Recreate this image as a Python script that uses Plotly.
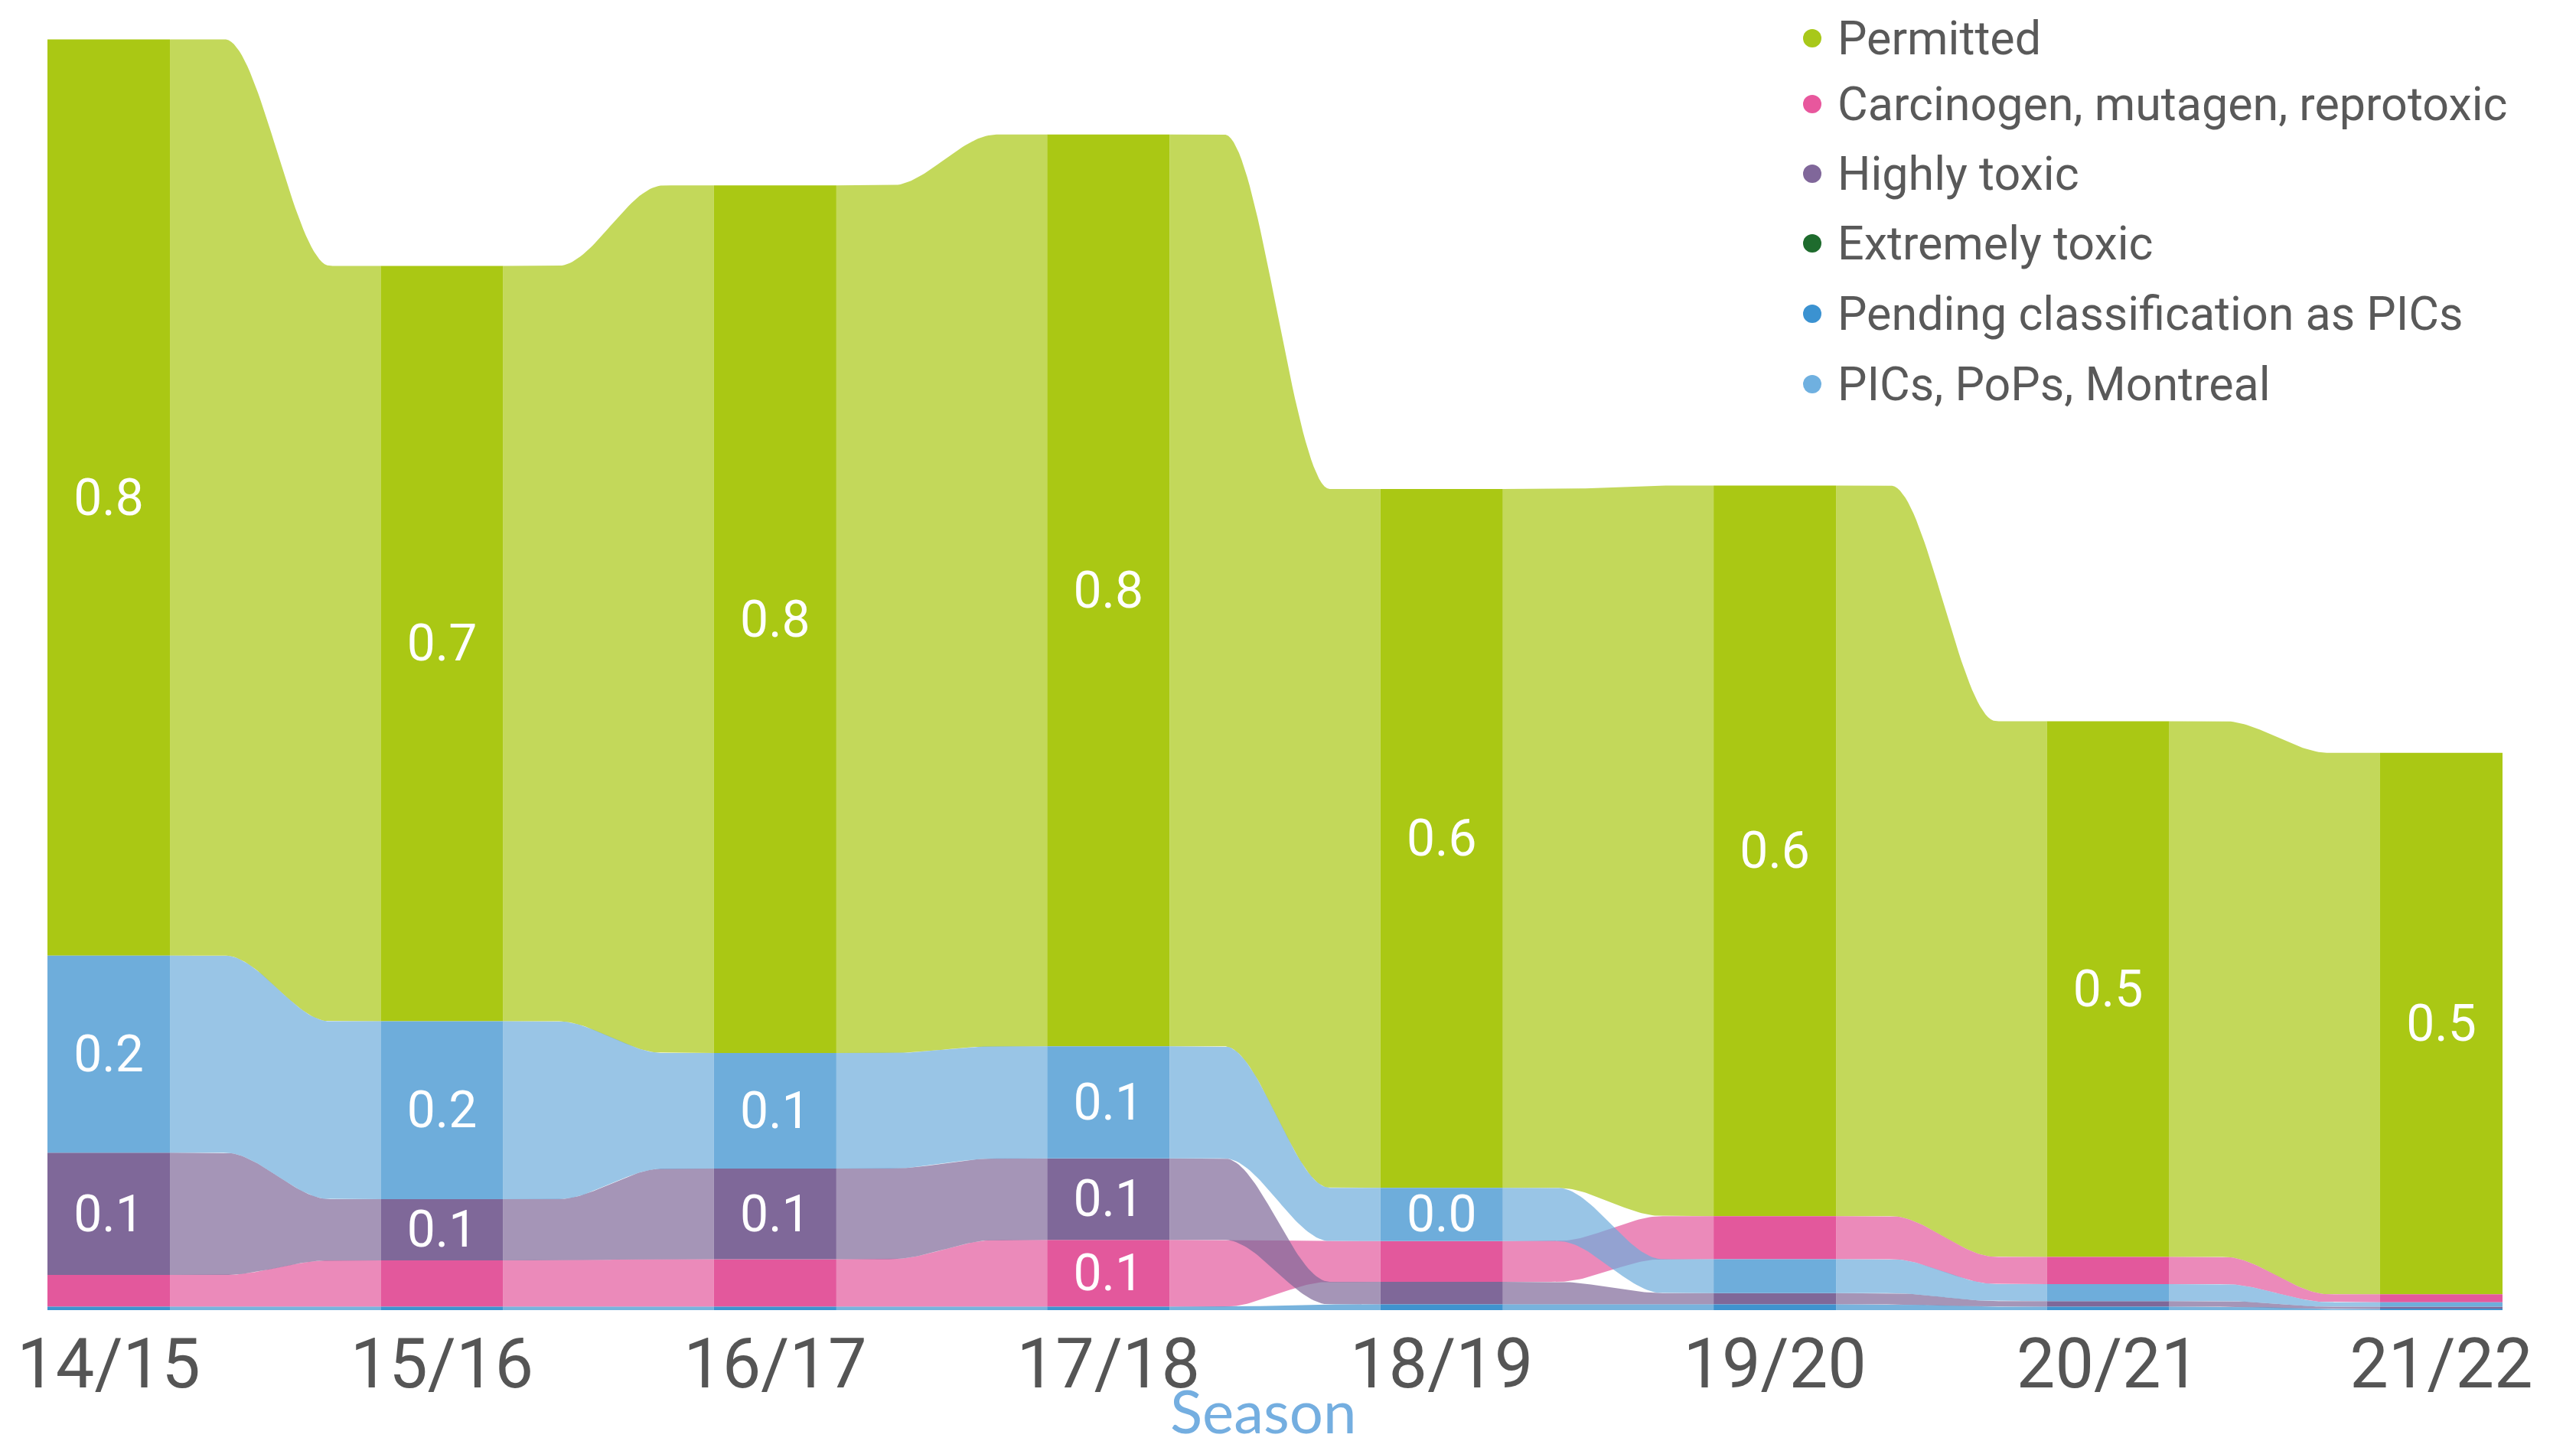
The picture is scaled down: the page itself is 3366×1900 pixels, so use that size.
import numpy as np
import plotly.graph_objects as go

seasons = ["14/15", "15/16", "16/17", "17/18", "18/19", "19/20", "20/21", "21/22"]

# values (per season)
permitted = [0.809, 0.667, 0.766, 0.805, 0.617, 0.645, 0.473, 0.478]
carcinogen = [0.028, 0.041, 0.042, 0.059, 0.036, 0.038, 0.024, 0.007]
highly_toxic = [0.108, 0.054, 0.080, 0.072, 0.020, 0.010, 0.005, 0.002]
extremely_toxic = [0.0, 0.0, 0.0, 0.0, 0.0, 0.0, 0.0, 0.0]
pending_pics = [0.003, 0.003, 0.003, 0.003, 0.005, 0.005, 0.003, 0.001]
pics_pops = [0.174, 0.157, 0.102, 0.099, 0.047, 0.030, 0.015, 0.004]

names = [
    "Permitted",
    "Carcinogen, mutagen, reprotoxic",
    "Highly toxic",
    "Extremely toxic",
    "Pending classification as PICs",
    "PICs, PoPs, Montreal",
]
values = [permitted, carcinogen, highly_toxic, extremely_toxic, pending_pics, pics_pops]
colors = ["#aac814", "#e3589c", "#7f6899", "#1e6b2d", "#3f93cf", "#6eaddb"]
legend_colors = ["#a8c81a", "#e8579d", "#80679a", "#1e6b2d", "#3b92d1", "#6fb0e0"]

label_min = 0.045
bar_w = 0.3675

W, H = 3350, 1884
plot_h = 1704


def rgba(hex_color, a):
    h = hex_color.lstrip("#")
    r, g, b = int(h[0:2], 16), int(h[2:4], 16), int(h[4:6], 16)
    return f"rgba({r},{g},{b},{a})"


# ribbon chart: in every season the smallest segment sits at the bottom
n_ser = len(names)
n_col = len(seasons)
vals = np.array(values)
bases = np.zeros_like(vals)
for c in range(n_col):
    order = sorted(range(n_ser), key=lambda s: vals[s, c])
    acc = 0.0
    for s in order:
        bases[s, c] = acc
        acc += vals[s, c]

fig = go.Figure()


def ease(s):
    u = np.clip((s - 0.26) / 0.5, 0, 1)
    return u * u * (3 - 2 * u)


t = np.linspace(0, 1, 80)
for s in range(n_ser):
    for c in range(n_col - 1):
        if vals[s, c] <= 0 and vals[s, c + 1] <= 0:
            continue
        x0 = c + bar_w / 2
        x1 = c + 1 - bar_w / 2
        xs = x0 + (x1 - x0) * t
        e = ease(t)
        lo = bases[s, c] + (bases[s, c + 1] - bases[s, c]) * e
        top0 = bases[s, c] + vals[s, c]
        top1 = bases[s, c + 1] + vals[s, c + 1]
        hi = top0 + (top1 - top0) * e
        fig.add_trace(
            go.Scatter(
                x=np.concatenate([xs, xs[::-1]]),
                y=np.concatenate([hi, lo[::-1]]),
                fill="toself",
                fillcolor=rgba(colors[s], 0.7),
                line=dict(width=0),
                mode="lines",
                hoverinfo="skip",
                showlegend=False,
            )
        )

x_pos = list(range(n_col))
for s in range(n_ser):
    fig.add_trace(
        go.Bar(
            x=x_pos,
            y=vals[s],
            base=bases[s],
            width=bar_w,
            marker=dict(color=colors[s], line=dict(width=0)),
            name=names[s],
            showlegend=False,
        )
    )

# value labels
lx, ly, lt = [], [], []
for s in range(n_ser):
    for c in range(n_col):
        if vals[s, c] >= label_min:
            lx.append(c)
            ly.append(bases[s, c] + vals[s, c] / 2 - 0.004)
            lt.append(f"{vals[s, c]:.1f}")
fig.add_trace(
    go.Scatter(
        x=lx, y=ly, text=lt, mode="text",
        textfont=dict(family="Roboto", size=66, color="white"),
        hoverinfo="skip", showlegend=False,
    )
)

# legend drawn by hand (dots + text) so it sits exactly at the top right
annotations = []
shapes = []
row_px = [42, 128, 219, 310, 402, 494]
for s in range(n_ser):
    yp = 1 - row_px[s] / plot_h
    shapes.append(dict(
        type="circle", xref="paper", yref="paper",
        xsizemode="pixel", ysizemode="pixel",
        xanchor=2360 / W, yanchor=yp,
        x0=-12, x1=12, y0=-12, y1=12,
        fillcolor=legend_colors[s], line=dict(width=0),
    ))
    annotations.append(dict(
        text=names[s], x=2391 / W, y=yp, xref="paper", yref="paper",
        xanchor="left", yanchor="middle", showarrow=False,
        font=dict(family="Roboto", size=61, color="#595959"),
    ))

annotations.append(dict(
    text="Season", x=0.4904, y=-0.0769, xref="paper", yref="paper",
    xanchor="center", yanchor="middle", showarrow=False,
    font=dict(family="Lato", size=78, color="#74aee0"),
))

fig.update_layout(
    width=W,
    height=H,
    margin=dict(l=0, r=0, t=0, b=H - plot_h),
    plot_bgcolor="white",
    paper_bgcolor="white",
    barmode="overlay",
    showlegend=False,
    xaxis=dict(
        range=[-0.3078, 7.3859],
        tickvals=x_pos, ticktext=seasons,
        tickfont=dict(family="Roboto", size=90, color="#555555"),
        showgrid=False, zeroline=False, showline=False, ticks="",
        ticklabelstandoff=10,
    ),
    yaxis=dict(range=[0, plot_h / 1480], visible=False, showgrid=False, zeroline=False),
    annotations=annotations,
    shapes=shapes,
)

fig.write_html("out.html")
